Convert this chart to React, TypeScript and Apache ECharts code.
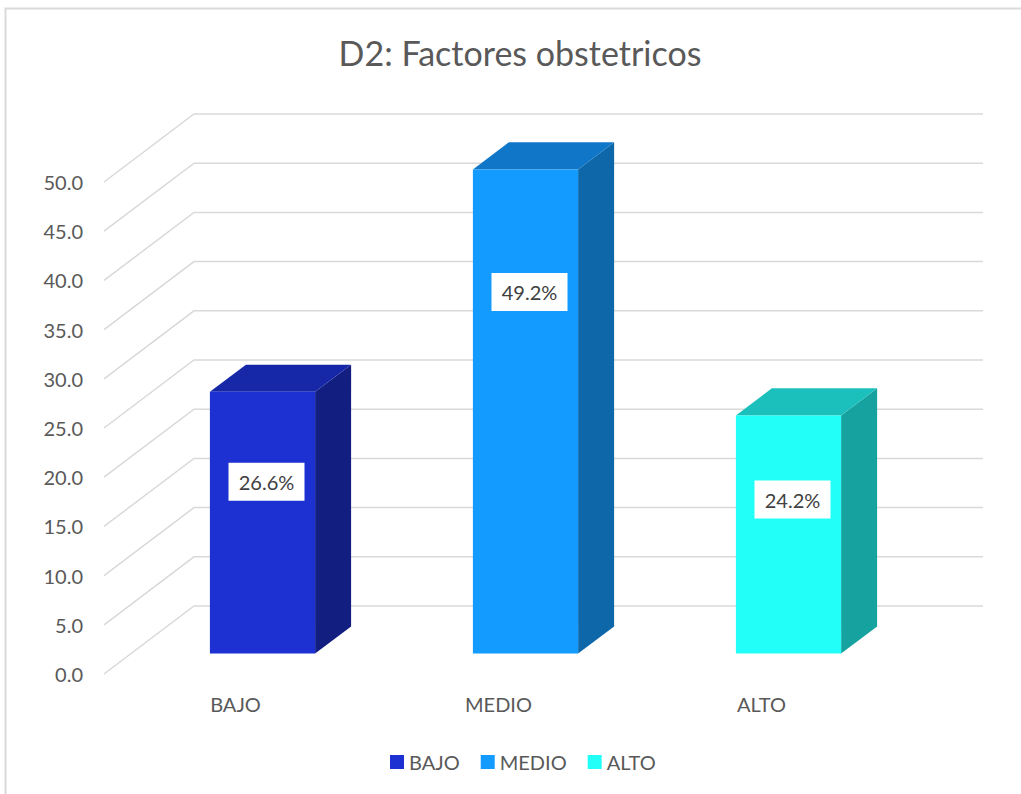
import React, { useEffect, useRef } from "react";
import * as echarts from "echarts";

const categories = ["BAJO", "MEDIO", "ALTO"];
const values = [26.6, 49.2, 24.2];
const yMin = 0;
const yMax = 50;
const yInterval = 5;
const tickValues = [0, 5, 10, 15, 20, 25, 30, 35, 40, 45, 50];
const frontColors = ["#1D31D2", "#149BFF", "#22FFF8"];
const topColors = ["#1628A8", "#1076C8", "#1BC0BC"];
const sideColors = ["#121E80", "#0E67A8", "#16A29E"];
const titleText = "D2: Factores obstetricos";

const FONT = "Lato, 'Open Sans', sans-serif";
const DX = 90;
const DY = -68;

export default function App() {
  const ref = useRef<HTMLDivElement>(null);
  useEffect(() => {
    if (!ref.current) return;
    const chart = echarts.init(ref.current, null, { renderer: "svg" });

    const gridSeries: any = {
      type: "custom",
      name: "grid",
      silent: true,
      z: 1,
      data: tickValues.map((v) => [0, v]),
      encode: { x: 0, y: 1 },
      renderItem: (params: any, api: any) => {
        const cs = params.coordSys;
        const y = api.coord([0, api.value(1)])[1];
        return {
          type: "polyline",
          shape: {
            points: [
              [cs.x, y],
              [cs.x + DX, y + DY],
              [cs.x + cs.width + DX, y + DY],
            ],
          },
          style: { stroke: "#d9d9d9", fill: "none", lineWidth: 1.5 },
        };
      },
    };

    const barSeries = categories.map((name, i) => ({
      type: "custom",
      name,
      z: 3,
      itemStyle: { color: frontColors[i] },
      data: [[i, values[i]]],
      encode: { x: 0, y: 1 },
      renderItem: (params: any, api: any) => {
        const idx = api.value(0);
        const v = api.value(1);
        const base = api.coord([idx, 0]);
        const top = api.coord([idx, v]);
        const bw = api.size([1, 0])[0] * 0.4;
        const ox = DX * 0.3;
        const oy = DY * 0.3;
        const dx = DX * 0.4;
        const dy = DY * 0.4;
        const xl = base[0] - bw / 2 + ox;
        const xr = base[0] + bw / 2 + ox;
        const yb = base[1] + oy;
        const yt = top[1] + oy;
        const frac = 0.55 + 0.004 * v;
        const ly = yb - (yb - yt) * frac;
        const lx = (xl + xr) / 2 + 4;
        return {
          type: "group",
          children: [
            {
              type: "polygon",
              shape: { points: [[xr, yt], [xr + dx, yt + dy], [xr + dx, yb + dy], [xr, yb]] },
              style: { fill: sideColors[i] },
            },
            {
              type: "polygon",
              shape: { points: [[xl, yt], [xl + dx, yt + dy], [xr + dx, yt + dy], [xr, yt]] },
              style: { fill: topColors[i] },
            },
            {
              type: "rect",
              shape: { x: xl, y: yt, width: bw, height: yb - yt },
              style: { fill: frontColors[i] },
            },
            {
              type: "rect",
              shape: { x: lx - 38, y: ly - 19, width: 76, height: 38 },
              style: { fill: "#ffffff" },
            },
            {
              type: "text",
              x: lx,
              y: ly,
              style: {
                text: v.toFixed(1) + "%",
                align: "center",
                verticalAlign: "middle",
                fontSize: 20,
                fontFamily: FONT,
                fill: "#404040",
              },
            },
          ],
        };
      },
    }));

    chart.setOption({
      animation: false,
      backgroundColor: "#ffffff",
      graphic: [
        {
          type: "rect",
          shape: { x: 5.5, y: 8.5, width: 1200, height: 1000 },
          style: { fill: "none", stroke: "#d9d9d9", lineWidth: 2 },
          z: 0,
        },
        {
          type: "text",
          x: 520,
          y: 52,
          style: {
            text: titleText,
            align: "center",
            verticalAlign: "middle",
            fontSize: 34,
            fontFamily: FONT,
            fill: "#595959",
          },
        },
      ],
      legend: {
        data: categories,
        left: 390,
        top: 752,
        padding: 0,
        itemWidth: 14,
        itemHeight: 14,
        itemGap: 21,
        icon: "rect",
        textStyle: { fontSize: 20, color: "#595959", fontFamily: FONT },
      },
      grid: { left: 104, right: 128, top: 182, bottom: 120 },
      xAxis: {
        type: "category",
        data: categories,
        axisLine: { show: false },
        axisTick: { show: false },
        axisLabel: { color: "#595959", fontSize: 20, margin: 20, fontFamily: FONT },
      },
      yAxis: {
        type: "value",
        min: yMin,
        max: yMax,
        interval: yInterval,
        axisLine: { show: false },
        axisTick: { show: false },
        splitLine: { show: false },
        axisLabel: {
          color: "#595959",
          fontSize: 20,
          margin: 21,
          fontFamily: FONT,
          formatter: (v: number) => v.toFixed(1),
        },
      },
      series: [gridSeries, ...barSeries],
    });
    return () => chart.dispose();
  }, []);
  return (
    <div
      ref={ref}
      style={{ position: "fixed", left: 0, top: 0, width: 1021, height: 794 }}
    />
  );
}
